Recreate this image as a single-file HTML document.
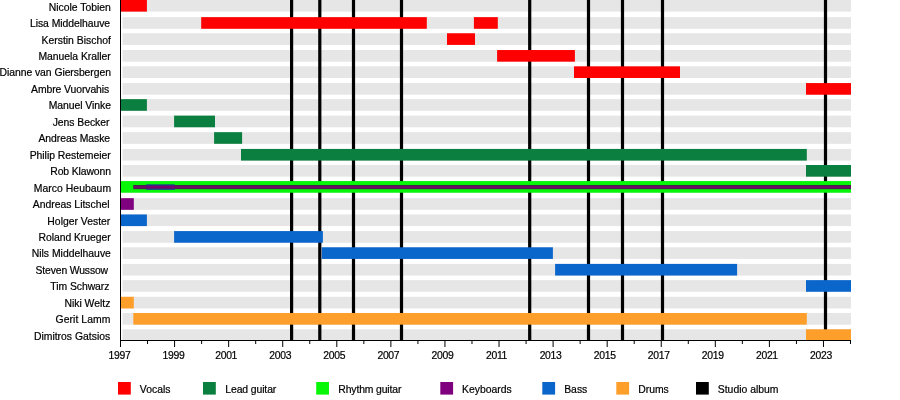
<!DOCTYPE html>
<html><head><meta charset="utf-8"><title>Timeline</title>
<style>html,body{margin:0;padding:0;background:#fff}svg{display:block}text{font-family:"Liberation Sans",sans-serif;fill:#000;stroke:#000;stroke-width:0.2px}</style></head><body>
<svg width="900" height="400" viewBox="0 0 900 400">
<defs><clipPath id="c"><rect x="0" y="0" width="900" height="340.2"/></clipPath></defs>
<rect width="900" height="400" fill="#fff"/>
<g clip-path="url(#c)" shape-rendering="auto">
<rect x="122.5" y="-0.03" width="728.50" height="11.65" fill="#e6e6e6"/>
<rect x="122.5" y="17.14" width="728.50" height="11.65" fill="#e6e6e6"/>
<rect x="122.5" y="33.27" width="728.50" height="11.65" fill="#e6e6e6"/>
<rect x="122.5" y="50.03" width="728.50" height="11.65" fill="#e6e6e6"/>
<rect x="122.5" y="66.34" width="728.50" height="11.65" fill="#e6e6e6"/>
<rect x="122.5" y="83.07" width="728.50" height="11.65" fill="#e6e6e6"/>
<rect x="122.5" y="99.14" width="728.50" height="11.65" fill="#e6e6e6"/>
<rect x="122.5" y="115.62" width="728.50" height="11.65" fill="#e6e6e6"/>
<rect x="122.5" y="132.17" width="728.50" height="11.65" fill="#e6e6e6"/>
<rect x="122.5" y="148.94" width="728.50" height="11.65" fill="#e6e6e6"/>
<rect x="122.5" y="165.01" width="728.50" height="11.65" fill="#e6e6e6"/>
<rect x="122.5" y="181.07" width="728.50" height="11.65" fill="#e6e6e6"/>
<rect x="122.5" y="198.18" width="728.50" height="11.65" fill="#e6e6e6"/>
<rect x="122.5" y="214.45" width="728.50" height="11.65" fill="#e6e6e6"/>
<rect x="122.5" y="231.08" width="728.50" height="11.65" fill="#e6e6e6"/>
<rect x="122.5" y="247.28" width="728.50" height="11.65" fill="#e6e6e6"/>
<rect x="122.5" y="263.90" width="728.50" height="11.65" fill="#e6e6e6"/>
<rect x="122.5" y="280.13" width="728.50" height="11.65" fill="#e6e6e6"/>
<rect x="122.5" y="296.80" width="728.50" height="11.65" fill="#e6e6e6"/>
<rect x="122.5" y="313.01" width="728.50" height="11.65" fill="#e6e6e6"/>
<rect x="122.5" y="329.28" width="728.50" height="11.65" fill="#e6e6e6"/>
<rect x="290.00" y="0" width="3.2" height="340" fill="#000"/>
<rect x="318.20" y="0" width="3.2" height="340" fill="#000"/>
<rect x="351.90" y="0" width="3.2" height="340" fill="#000"/>
<rect x="399.90" y="0" width="3.2" height="340" fill="#000"/>
<rect x="528.10" y="0" width="3.2" height="340" fill="#000"/>
<rect x="586.90" y="0" width="3.2" height="340" fill="#000"/>
<rect x="620.90" y="0" width="3.2" height="340" fill="#000"/>
<rect x="660.90" y="0" width="3.2" height="340" fill="#000"/>
<rect x="823.90" y="0" width="3.2" height="340" fill="#000"/>
<rect x="120.00" y="-0.03" width="26.90" height="11.65" fill="#ff0000"/>
<rect x="201.20" y="17.14" width="225.60" height="11.65" fill="#ff0000"/>
<rect x="473.90" y="17.14" width="23.90" height="11.65" fill="#ff0000"/>
<rect x="447.00" y="33.27" width="28.00" height="11.65" fill="#ff0000"/>
<rect x="497.10" y="50.03" width="77.80" height="11.65" fill="#ff0000"/>
<rect x="574.00" y="66.34" width="106.00" height="11.65" fill="#ff0000"/>
<rect x="806.00" y="83.07" width="45.00" height="11.65" fill="#ff0000"/>
<rect x="120.00" y="99.14" width="26.90" height="11.65" fill="#0b7f3f"/>
<rect x="174.10" y="115.62" width="40.90" height="11.65" fill="#0b7f3f"/>
<rect x="214.10" y="132.17" width="28.00" height="11.65" fill="#0b7f3f"/>
<rect x="241.00" y="148.94" width="565.80" height="11.65" fill="#0b7f3f"/>
<rect x="806.00" y="165.01" width="45.00" height="11.65" fill="#0b7f3f"/>
<rect x="120.00" y="181.07" width="731.00" height="11.65" fill="#08f608"/>
<rect x="120.00" y="198.18" width="13.80" height="11.65" fill="#7f007f"/>
<rect x="120.00" y="214.45" width="26.90" height="11.65" fill="#0b66cc"/>
<rect x="174.10" y="231.08" width="148.80" height="11.65" fill="#0b66cc"/>
<rect x="321.80" y="247.28" width="231.10" height="11.65" fill="#0b66cc"/>
<rect x="555.10" y="263.90" width="182.00" height="11.65" fill="#0b66cc"/>
<rect x="806.00" y="280.13" width="45.00" height="11.65" fill="#0b66cc"/>
<rect x="120.00" y="296.80" width="13.80" height="11.65" fill="#ff9f2b"/>
<rect x="133.30" y="313.01" width="673.50" height="11.65" fill="#ff9f2b"/>
<rect x="806.00" y="329.28" width="45.00" height="11.65" fill="#ff9f2b"/>
<rect x="133.3" y="184.99" width="717.70" height="4.2" fill="#3a2a3c"/>
<rect x="146.2" y="184.34" width="28.6" height="5.5" fill="#143f8c"/>
<rect x="133.6" y="185.79" width="717.40" height="2.6" fill="#6c0e66"/>
<rect x="146.6" y="185.74" width="27.8" height="2.7" fill="#76006e"/>
</g>
<rect x="120" y="0" width="1" height="341" fill="#000"/>
<rect x="120" y="340" width="731" height="1" fill="#000"/>
<rect x="120.00" y="340" width="1" height="7" fill="#000"/>
<text x="119.50" y="359" font-size="10.4" text-anchor="middle" letter-spacing="-0.3">1997</text>
<rect x="147.04" y="340" width="1" height="4" fill="#000"/>
<rect x="174.07" y="340" width="1" height="7" fill="#000"/>
<text x="173.57" y="359" font-size="10.4" text-anchor="middle" letter-spacing="-0.3">1999</text>
<rect x="201.11" y="340" width="1" height="4" fill="#000"/>
<rect x="228.15" y="340" width="1" height="7" fill="#000"/>
<text x="226.15" y="359" font-size="10.4" text-anchor="middle" letter-spacing="-0.3">2001</text>
<rect x="255.19" y="340" width="1" height="4" fill="#000"/>
<rect x="282.22" y="340" width="1" height="7" fill="#000"/>
<text x="280.22" y="359" font-size="10.4" text-anchor="middle" letter-spacing="-0.3">2003</text>
<rect x="309.26" y="340" width="1" height="4" fill="#000"/>
<rect x="336.30" y="340" width="1" height="7" fill="#000"/>
<text x="334.30" y="359" font-size="10.4" text-anchor="middle" letter-spacing="-0.3">2005</text>
<rect x="363.33" y="340" width="1" height="4" fill="#000"/>
<rect x="390.37" y="340" width="1" height="7" fill="#000"/>
<text x="388.37" y="359" font-size="10.4" text-anchor="middle" letter-spacing="-0.3">2007</text>
<rect x="417.41" y="340" width="1" height="4" fill="#000"/>
<rect x="444.44" y="340" width="1" height="7" fill="#000"/>
<text x="442.44" y="359" font-size="10.4" text-anchor="middle" letter-spacing="-0.3">2009</text>
<rect x="471.48" y="340" width="1" height="4" fill="#000"/>
<rect x="498.52" y="340" width="1" height="7" fill="#000"/>
<text x="496.52" y="359" font-size="10.4" text-anchor="middle" letter-spacing="-0.3">2011</text>
<rect x="525.56" y="340" width="1" height="4" fill="#000"/>
<rect x="552.59" y="340" width="1" height="7" fill="#000"/>
<text x="550.59" y="359" font-size="10.4" text-anchor="middle" letter-spacing="-0.3">2013</text>
<rect x="579.63" y="340" width="1" height="4" fill="#000"/>
<rect x="606.67" y="340" width="1" height="7" fill="#000"/>
<text x="604.67" y="359" font-size="10.4" text-anchor="middle" letter-spacing="-0.3">2015</text>
<rect x="633.70" y="340" width="1" height="4" fill="#000"/>
<rect x="660.74" y="340" width="1" height="7" fill="#000"/>
<text x="658.74" y="359" font-size="10.4" text-anchor="middle" letter-spacing="-0.3">2017</text>
<rect x="687.78" y="340" width="1" height="4" fill="#000"/>
<rect x="714.81" y="340" width="1" height="7" fill="#000"/>
<text x="712.81" y="359" font-size="10.4" text-anchor="middle" letter-spacing="-0.3">2019</text>
<rect x="741.85" y="340" width="1" height="4" fill="#000"/>
<rect x="768.89" y="340" width="1" height="7" fill="#000"/>
<text x="766.89" y="359" font-size="10.4" text-anchor="middle" letter-spacing="-0.3">2021</text>
<rect x="795.93" y="340" width="1" height="4" fill="#000"/>
<rect x="822.96" y="340" width="1" height="7" fill="#000"/>
<text x="820.96" y="359" font-size="10.4" text-anchor="middle" letter-spacing="-0.3">2023</text>
<rect x="850.00" y="340" width="1" height="4" fill="#000"/>
<text id="n0" x="110.89" y="10.90" font-size="10.4" text-anchor="end" letter-spacing="0">Nicole Tobien</text>
<text id="n1" x="110.10" y="26.90" font-size="10.4" text-anchor="end" letter-spacing="-0.045">Lisa Middelhauve</text>
<text id="n2" x="110.88" y="43.90" font-size="10.4" text-anchor="end" letter-spacing="0">Kerstin Bischof</text>
<text id="n3" x="110.62" y="59.60" font-size="10.4" text-anchor="end" letter-spacing="-0.045">Manuela Kraller</text>
<text id="n4" x="110.89" y="75.60" font-size="10.4" text-anchor="end" letter-spacing="-0.062">Dianne van Giersbergen</text>
<text id="n5" x="109.18" y="92.50" font-size="10.4" text-anchor="end" letter-spacing="-0.08">Ambre Vuorvahis</text>
<text id="n6" x="110.88" y="108.90" font-size="10.4" text-anchor="end" letter-spacing="-0.047">Manuel Vinke</text>
<text id="n7" x="109.31" y="125.90" font-size="10.4" text-anchor="end" letter-spacing="-0.053">Jens Becker</text>
<text id="n8" x="110.10" y="141.90" font-size="10.4" text-anchor="end" letter-spacing="-0.04">Andreas Maske</text>
<text id="n9" x="110.62" y="158.50" font-size="10.4" text-anchor="end" letter-spacing="-0.029">Philip Restemeier</text>
<text id="n10" x="110.89" y="174.90" font-size="10.4" text-anchor="end" letter-spacing="-0.114">Rob Klawonn</text>
<text id="n11" x="111.15" y="191.50" font-size="10.4" text-anchor="end" letter-spacing="0.047">Marco Heubaum</text>
<text id="n12" x="109.60" y="207.60" font-size="10.4" text-anchor="end" letter-spacing="0">Andreas Litschel</text>
<text id="n13" x="110.32" y="224.90" font-size="10.4" text-anchor="end" letter-spacing="0">Holger Vester</text>
<text id="n14" x="110.62" y="240.90" font-size="10.4" text-anchor="end" letter-spacing="-0.048">Roland Krueger</text>
<text id="n15" x="110.88" y="256.90" font-size="10.4" text-anchor="end" letter-spacing="0">Nils Middelhauve</text>
<text id="n16" x="107.93" y="273.90" font-size="10.4" text-anchor="end" letter-spacing="-0.151">Steven Wussow</text>
<text id="n17" x="109.41" y="289.90" font-size="10.4" text-anchor="end" letter-spacing="-0.055">Tim Schwarz</text>
<text id="n18" x="110.41" y="306.90" font-size="10.4" text-anchor="end" letter-spacing="0">Niki Weltz</text>
<text id="n19" x="110.50" y="322.80" font-size="10.4" text-anchor="end" letter-spacing="0.074">Gerit Lamm</text>
<text id="n20" x="110.18" y="339.90" font-size="10.4" text-anchor="end" letter-spacing="0">Dimitros Gatsios</text>
<rect x="118" y="382" width="12.8" height="12.6" fill="#ff0000"/>
<text id="l0" x="139.80" y="393.3" font-size="10.4" letter-spacing="0">Vocals</text>
<rect x="203" y="382" width="12.8" height="12.6" fill="#0b7f3f"/>
<text id="l1" x="225.30" y="393.3" font-size="10.4" letter-spacing="-0.1">Lead guitar</text>
<rect x="316.2" y="382" width="12.8" height="12.6" fill="#08f608"/>
<text id="l2" x="338.30" y="393.3" font-size="10.4" letter-spacing="-0.13">Rhythm guitar</text>
<rect x="440.3" y="382" width="12.8" height="12.6" fill="#7f007f"/>
<text id="l3" x="462.00" y="393.3" font-size="10.4" letter-spacing="0">Keyboards</text>
<rect x="542.3" y="382" width="12.8" height="12.6" fill="#0b66cc"/>
<text id="l4" x="564.20" y="393.3" font-size="10.4" letter-spacing="0">Bass</text>
<rect x="616.3" y="382" width="12.8" height="12.6" fill="#ff9f2b"/>
<text id="l5" x="638.20" y="393.3" font-size="10.4" letter-spacing="0">Drums</text>
<rect x="696" y="382" width="12.8" height="12.6" fill="#000"/>
<text id="l6" x="717.80" y="393.3" font-size="10.4" letter-spacing="0">Studio album</text>
</svg></body></html>
